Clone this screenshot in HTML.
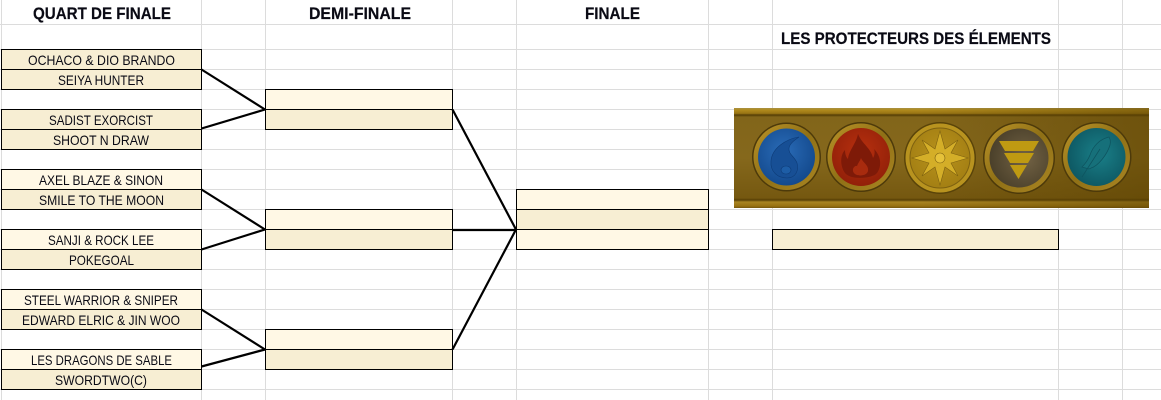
<!DOCTYPE html>
<html><head><meta charset="utf-8"><style>
html,body{margin:0;padding:0;background:#fff;width:1161px;height:400px;overflow:hidden}
svg{display:block}
text{font-family:"Liberation Sans",sans-serif;fill:#0a0a14}
.t{font-size:14px;text-anchor:start}
.h{font-size:17px;font-weight:bold;stroke:#0a0a14;stroke-width:.2px}
</style></head><body>
<svg width="1161" height="400" viewBox="0 0 1161 400" xmlns="http://www.w3.org/2000/svg">
<defs>
<linearGradient id="band" x1="0" y1="0" x2="0" y2="1">
<stop offset="0" stop-color="#a89044"/><stop offset=".02" stop-color="#b08a1c"/><stop offset=".055" stop-color="#987414"/><stop offset=".07" stop-color="#543d05"/><stop offset=".09" stop-color="#82651a"/><stop offset=".5" stop-color="#85681c"/><stop offset=".9" stop-color="#755810"/><stop offset=".92" stop-color="#584006"/><stop offset=".94" stop-color="#a88422"/><stop offset=".98" stop-color="#987212"/><stop offset="1" stop-color="#74560e"/>
</linearGradient>
<linearGradient id="shade" x1="0" y1="0" x2="1" y2="0">
<stop offset="0" stop-color="#5a4000" stop-opacity="0"/><stop offset=".45" stop-color="#5a4000" stop-opacity="0"/><stop offset="1" stop-color="#5a4000" stop-opacity=".5"/>
</linearGradient>
<linearGradient id="ring" x1="0" y1="0" x2="1" y2="1"><stop offset="0" stop-color="#bb9428"/><stop offset=".5" stop-color="#8f7016"/><stop offset="1" stop-color="#ab8622"/></linearGradient>
<radialGradient id="blue" cx=".45" cy=".4" r=".65"><stop offset="0" stop-color="#2a6cb8"/><stop offset="1" stop-color="#12478a"/></radialGradient>
<radialGradient id="red" cx=".5" cy=".4" r=".65"><stop offset="0" stop-color="#b8300f"/><stop offset="1" stop-color="#8f1f08"/></radialGradient>
<radialGradient id="gold" cx=".5" cy=".45" r=".65"><stop offset="0" stop-color="#b8921c"/><stop offset="1" stop-color="#a07c12"/></radialGradient>
<radialGradient id="earth" cx=".6" cy=".5" r=".65"><stop offset="0" stop-color="#736345"/><stop offset="1" stop-color="#473d28"/></radialGradient>
<radialGradient id="teal" cx=".55" cy=".45" r=".65"><stop offset="0" stop-color="#1a8089"/><stop offset="1" stop-color="#0c535e"/></radialGradient>
</defs>

<g stroke="#dcdcdc" stroke-width="1" shape-rendering="crispEdges" fill="none">
<path d="M1.5 0V400M201.5 0V400M265.5 0V400M452.5 0V400M516.5 0V400M708.5 0V400M772.5 0V400M1058.5 0V400M1122.5 0V400"/>
<path d="M0 24.5H1161M0 49.5H1161M0 69.5H1161M0 89.5H1161M0 109.5H1161M0 129.5H1161M0 149.5H1161M0 169.5H1161M0 189.5H1161M0 209.5H1161M0 229.5H1161M0 249.5H1161M0 269.5H1161M0 289.5H1161M0 309.5H1161M0 329.5H1161M0 349.5H1161M0 369.5H1161M0 389.5H1161"/>
</g>

<text class="h" x="33" y="19" textLength="138" lengthAdjust="spacingAndGlyphs">QUART DE FINALE</text>
<text class="h" x="309" y="19" textLength="102" lengthAdjust="spacingAndGlyphs">DEMI-FINALE</text>
<text class="h" x="585" y="19" textLength="55" lengthAdjust="spacingAndGlyphs">FINALE</text>
<text class="h" x="781" y="44" textLength="270" lengthAdjust="spacingAndGlyphs">LES PROTECTEURS DES ÉLEMENTS</text>

<g stroke="#000" stroke-width="1" shape-rendering="crispEdges">
<rect x="1.5" y="49.5" width="200" height="20" fill="#f7eed3"/>
<rect x="1.5" y="69.5" width="200" height="20" fill="#f7eed3"/>
<rect x="1.5" y="109.5" width="200" height="20" fill="#f7eed3"/>
<rect x="1.5" y="129.5" width="200" height="20" fill="#f7eed3"/>
<rect x="1.5" y="169.5" width="200" height="20" fill="#fff8e5"/>
<rect x="1.5" y="189.5" width="200" height="20" fill="#f7eed3"/>
<rect x="1.5" y="229.5" width="200" height="20" fill="#fff8e5"/>
<rect x="1.5" y="249.5" width="200" height="20" fill="#f7eed3"/>
<rect x="1.5" y="289.5" width="200" height="20" fill="#fff8e5"/>
<rect x="1.5" y="309.5" width="200" height="20" fill="#f7eed3"/>
<rect x="1.5" y="349.5" width="200" height="20" fill="#fff8e5"/>
<rect x="1.5" y="369.5" width="200" height="20" fill="#f7eed3"/>
<rect x="265.5" y="89.5" width="187" height="20" fill="#fff8e5"/>
<rect x="265.5" y="109.5" width="187" height="20" fill="#f7eed3"/>
<rect x="265.5" y="209.5" width="187" height="20" fill="#fff8e5"/>
<rect x="265.5" y="229.5" width="187" height="20" fill="#f7eed3"/>
<rect x="265.5" y="329.5" width="187" height="20" fill="#fff8e5"/>
<rect x="265.5" y="349.5" width="187" height="20" fill="#f7eed3"/>
<rect x="516.5" y="189.5" width="192" height="20" fill="#fff8e5"/>
<rect x="516.5" y="209.5" width="192" height="20" fill="#f7eed3"/>
<rect x="516.5" y="229.5" width="192" height="20" fill="#fff8e5"/>
<rect x="772.5" y="229.5" width="286" height="20" fill="#f7eed3"/>
</g>

<g class="names">
<text class="t" x="28" y="65" textLength="147" lengthAdjust="spacingAndGlyphs">OCHACO &amp; DIO BRANDO</text>
<text class="t" x="58" y="85" textLength="86" lengthAdjust="spacingAndGlyphs">SEIYA HUNTER</text>
<text class="t" x="49" y="125" textLength="104" lengthAdjust="spacingAndGlyphs">SADIST EXORCIST</text>
<text class="t" x="53" y="145" textLength="96" lengthAdjust="spacingAndGlyphs">SHOOT N DRAW</text>
<text class="t" x="39" y="185" textLength="124" lengthAdjust="spacingAndGlyphs">AXEL BLAZE &amp; SINON</text>
<text class="t" x="39" y="205" textLength="125" lengthAdjust="spacingAndGlyphs">SMILE TO THE MOON</text>
<text class="t" x="48" y="245" textLength="106" lengthAdjust="spacingAndGlyphs">SANJI &amp; ROCK LEE</text>
<text class="t" x="69" y="265" textLength="65" lengthAdjust="spacingAndGlyphs">POKEGOAL</text>
<text class="t" x="24" y="305" textLength="154" lengthAdjust="spacingAndGlyphs">STEEL WARRIOR &amp; SNIPER</text>
<text class="t" x="22" y="325" textLength="158" lengthAdjust="spacingAndGlyphs">EDWARD ELRIC &amp; JIN WOO</text>
<text class="t" x="31" y="365" textLength="141" lengthAdjust="spacingAndGlyphs">LES DRAGONS DE SABLE</text>
<text class="t" x="55" y="385" textLength="92" lengthAdjust="spacingAndGlyphs">SWORDTWO(C)</text>
</g>

<g stroke="#000" stroke-width="2.2" fill="none">
<path d="M201.5 69.5L265 109.5M201.5 128.5L265 109.5"/>
<path d="M201.5 189.5L265 229.5M201.5 249.5L265 229.5"/>
<path d="M201.5 309.5L265 349.5M201.5 366.5L265 349.5"/>
<path d="M452.5 109.5L516 229.5M452 230H516M452.5 349.5L516 229.5"/>
</g>

<!-- banner -->
<rect x="734" y="108" width="415" height="100" fill="url(#band)"/>
<rect x="734" y="108" width="415" height="100" fill="url(#shade)"/>

<!-- blue -->
<circle cx="786.5" cy="157" r="34.5" fill="#4d3a0a"/>
<circle cx="786.5" cy="157" r="33" fill="url(#ring)"/>
<circle cx="786.5" cy="157" r="28.5" fill="url(#blue)"/>
<path d="M799 137C786 139 772 148 771 161C770 172 778 178 787 178C796 178 799 170 797 163C795 157 788 154 789 148C790 143 795 140 799 137Z" fill="#174f95" stroke="#0e3c78" stroke-width=".6"/>
<ellipse cx="786" cy="170" rx="5" ry="4" fill="#1d5da6" stroke="#0e3c78" stroke-width=".6"/>

<!-- red -->
<circle cx="861" cy="157" r="35" fill="#4d3a0a"/>
<circle cx="861" cy="157" r="33.5" fill="url(#ring)"/>
<circle cx="861" cy="157" r="29" fill="url(#red)"/>
<path d="M858 134C862 144 871 148 873 158C875 155 875 151 874 149C881 156 882 166 877 173C872 179 850 180 845 173C840 166 840 155 845 150C845 154 846 157 848 159C849 150 856 144 858 134Z" fill="#7e1a08"/>
<path d="M861 158C863 163 869 165 868 171C867 176 857 177 854 173C851 169 855 165 857 166C858 163 860 161 861 158Z" fill="#a82b0e"/>

<!-- sun -->
<circle cx="940" cy="158" r="36" fill="#5a4409"/>
<circle cx="940" cy="158" r="34.5" fill="#b8931f"/>
<circle cx="940" cy="158" r="30" fill="url(#gold)" stroke="#7e6110" stroke-width="1"/>
<path d="M940 131L945 149L958 140L951 153L968 158L951 163L958 176L945 167L940 185L935 167L922 176L929 163L912 158L929 153L922 140L935 149Z" fill="#d4ae28" stroke="#7e6110" stroke-width=".6"/>
<circle cx="940" cy="158" r="5" fill="#e6c23a" stroke="#7e6110" stroke-width=".6"/>

<!-- earth -->
<circle cx="1019" cy="158" r="36" fill="#4d3a0a"/>
<circle cx="1019" cy="158" r="34.5" fill="url(#ring)"/>
<circle cx="1019" cy="158" r="29.5" fill="url(#earth)"/>
<path d="M999 141H1039L1033 151H1005Z" fill="#bf9a12"/>
<path d="M1004 153H1034L1028 163H1010Z" fill="#bf9a12"/>
<path d="M1010 165H1027L1018.500 179Z" fill="#bf9a12"/>

<!-- teal -->
<circle cx="1096.500" cy="157" r="35" fill="#4d3a0a"/>
<circle cx="1096.500" cy="157" r="33.500" fill="url(#ring)"/>
<circle cx="1096.500" cy="157" r="29" fill="url(#teal)"/>
<path d="M1109 137C1100 139 1093 146 1090 155C1088 160 1085 164 1082 167C1086 168 1089 170 1091 168C1098 166 1107 155 1110 145C1111 141 1110 139 1109 137ZM1082 177L1100 149" fill="#16707a" stroke="#0e5560" stroke-width=".8"/>
</svg>
</body></html>
